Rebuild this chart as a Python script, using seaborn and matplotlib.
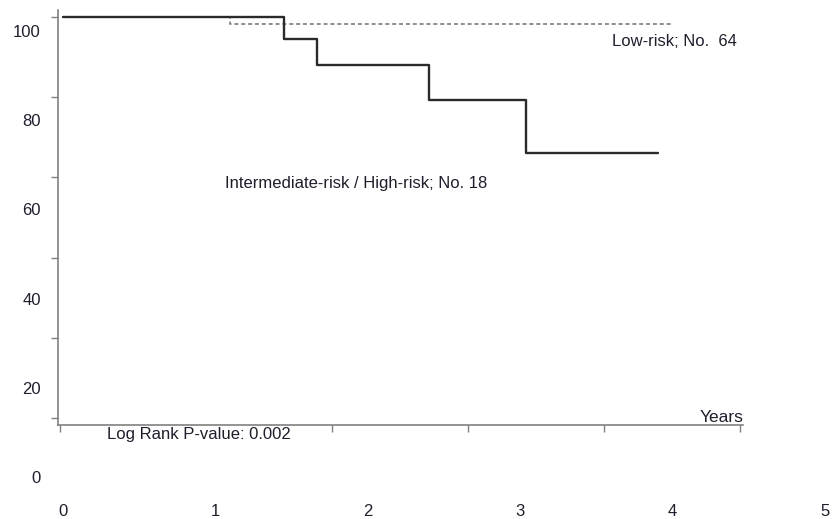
import matplotlib
matplotlib.use("Agg")
import matplotlib.pyplot as plt
import seaborn as sns
import pandas as pd

# ---- data ----
int_times = [0.02, 1.65, 1.89, 2.71, 3.43, 4.40]
int_surv = [100.0, 94.4, 88.0, 79.2, 66.0, 66.0]
low_times = [0.02, 1.25, 4.51]
low_surv = [100.0, 98.2, 98.2]
axis_ticks_x = [0, 1, 2, 3, 4, 5]
axis_ticks_y = [0, 20, 40, 60, 80, 100]
label_x = [0, 1, 2, 3, 4, 5]
label_y = [0, 20, 40, 60, 80, 100]
int_label = "Intermediate-risk / High-risk; No. 18"
low_label = "Low-risk; No.  64"
pvalue_label = "Log Rank P-value: 0.002"
x_title = "Years"

sns.set_style("white")
plt.rcParams['font.family'] = ['Liberation Sans', 'DejaVu Sans']

W, H = 832, 519
fig = plt.figure(figsize=(W / 100, H / 100), dpi=100)

txt_col = "#1e1e2c"
spine_col = "#808080"

# label axes (tick labels are offset from the drawn axis in the original)
ax2 = fig.add_axes([63 / W, (H - 477) / H, 762 / W, (477 - 31) / H])
ax2.set_xlim(0, 5)
ax2.set_ylim(0, 100)
ax2.patch.set_alpha(0)
for s in ax2.spines.values():
    s.set_visible(False)
ax2.set_xticks(label_x)
ax2.set_xticklabels([str(v) for v in label_x])
ax2.set_yticks(label_y)
ax2.set_yticklabels([str(v) for v in label_y])
ax2.tick_params(axis='x', length=0, pad=19.5, labelsize=12, labelcolor=txt_col)
ax2.tick_params(axis='y', length=0, pad=16, labelsize=12, labelcolor=txt_col)

# main plot axes
ax = fig.add_axes([58 / W, (H - 425) / H, (743 - 58) / W, (425 - 10) / H])
ax.patch.set_alpha(0)
ax.set_xlim(-0.015, 5.022)
ax.set_ylim(-1.75, 101.75)

df_int = pd.DataFrame({"t": int_times, "s": int_surv})
df_low = pd.DataFrame({"t": low_times, "s": low_surv})

sns.lineplot(data=df_low, x="t", y="s", drawstyle="steps-post", ax=ax,
             color="#858585", linewidth=1.3, linestyle=(0, (2.2, 1.6)), zorder=2)
sns.lineplot(data=df_int, x="t", y="s", drawstyle="steps-post", ax=ax,
             color="#2a2a2a", linewidth=1.7, zorder=3)

for side in ["top", "right"]:
    ax.spines[side].set_visible(False)
for side in ["left", "bottom"]:
    ax.spines[side].set_color(spine_col)
    ax.spines[side].set_linewidth(1.2)

ax.set_xticks(axis_ticks_x)
ax.set_yticks(axis_ticks_y)
ax.set_xticklabels([])
ax.set_yticklabels([])
ax.tick_params(axis='both', direction='out', length=5, width=1.0, color=spine_col,
               bottom=True, left=True)
ax.set_xlabel("")
ax.set_ylabel("")

ax.text(4.06, 93.8, low_label, ha="left", va="center", fontsize=12, color=txt_col)
ax.text(1.213, 58.6, int_label, ha="left", va="center", fontsize=12, color=txt_col)
ax.text(5.022, -0.9, x_title, ha="right", va="baseline", fontsize=12.5, color=txt_col)
ax.text(0.346, -4.0, pvalue_label, ha="left", va="center", fontsize=12,
        color=txt_col, clip_on=False, zorder=10,
        bbox=dict(facecolor="white", edgecolor="none", pad=0.5))

fig.savefig("out.png", dpi=100)
